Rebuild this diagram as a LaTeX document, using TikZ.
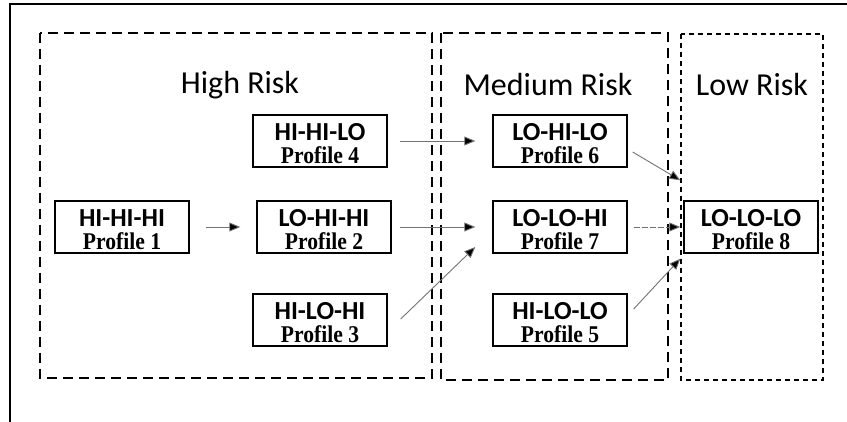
\documentclass[tikz,border=0pt]{standalone}
\usepackage{fontspec}
\setmainfont{Liberation Serif}
\newfontfamily\calib{Carlito}
\newfontfamily\proffont[FakeStretch=0.9]{Liberation Serif Bold}
\usetikzlibrary{arrows.meta,calc}
% a profile: framed box, code line and profile line set on fixed baselines
\newcommand\profilebox[4]{%
  \node[profile] (#1) at (#2) {};
  \node[code,anchor=base] (#1c) at ($(#1.north)+(0,26)$) {#3};
  \node[proftext,anchor=base] (#1t) at ($(#1.south)+(0,-4)$) {#4};
}
\begin{document}
\begin{tikzpicture}[x=1pt,y=-1pt,
  zone/.style={draw=black,line width=1.5pt,dash pattern=on 10pt off 6pt},
  zonefine/.style={draw=black,line width=1.5pt,dash pattern=on 5pt off 4pt},
  zonetitle/.style={font=\calib\fontsize{32}{36}\selectfont,anchor=center},
  profile/.style={draw=black,line width=1.4pt,minimum width=134pt,minimum height=52pt,inner sep=0pt},
  code/.style={inner sep=0pt,font=\calib\bfseries\fontsize{26}{28}\selectfont},
  proftext/.style={inner sep=0pt,font=\proffont\fontsize{24}{26}\selectfont},
  link/.style={draw=black!55,line width=0.9pt,-{Triangle[length=11pt,width=9pt,fill=black]}}]
\useasboundingbox (0,0) rectangle (847,422);
\fill[white] (0,0) rectangle (847,422);
% frame of the page
\draw[line width=2pt] (10,422) -- (10,4) -- (847,4);
% risk zones
\draw[zone] (40,33) rectangle (432,378);
\draw[zone] (441,33) rectangle (668,380);
\draw[zonefine] (681,34) rectangle (823,380);
\node[zonetitle] (thigh) at (240,85) {High Risk};
\node[zonetitle] (tmed) at (548,85) {Medium Risk};
\node[zonetitle] (tlow) at (752,85) {Low Risk};
% profiles
\profilebox{p4}{320,141}{HI-HI-LO}{Profile 4}
\profilebox{p1}{122,227}{HI-HI-HI}{Profile 1}
\profilebox{p2}{324,227}{LO-HI-HI}{Profile 2}
\profilebox{p3}{320,320}{HI-LO-HI}{Profile 3}
\profilebox{p6}{560,141}{LO-HI-LO}{Profile 6}
\profilebox{p7}{560,227}{LO-LO-HI}{Profile 7}
\profilebox{p5}{560,320}{HI-LO-LO}{Profile 5}
\profilebox{p8}{751,227}{LO-LO-LO}{Profile 8}
% transitions
\draw[link,shorten <=16pt,shorten >=16pt] (p1.east) -- (p2.west);
\draw[link,shorten <=12pt,shorten >=17pt] (p4.east) -- (p6.west);
\draw[link,shorten <=8pt,shorten >=17pt] (p2.east) -- (p7.west);
\draw[link] ($(p3.east)+(13,-1)$) -- ($(p7.west)+(-17,20)$);
\draw[link] ($(p6.east)+(5,11)$) -- ($(p8.north west)+(-3,-20)$);
\draw[link,dash pattern=on 6pt off 2pt] ($(p7.east)+(6,0)$) -- ($(p8.west)+(-3,0)$);
\draw[link] ($(p5.east)+(6,-11)$) -- ($(p8.south west)+(-3,5)$);
\end{tikzpicture}
\end{document}
